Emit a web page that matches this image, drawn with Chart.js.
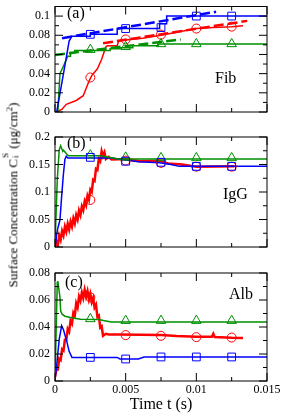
<!DOCTYPE html>
<html>
<head>
<meta charset="utf-8">
<script src="https://cdn.jsdelivr.net/npm/chart.js@4.4.1/dist/chart.umd.min.js"></script>
<style>
  body { margin: 0; background: #fff; width: 281px; height: 413px; overflow: hidden; position: relative; }
  canvas { position: absolute; left: 0; }
  #ytitle {
    position: absolute; left: 13px; top: 195px; white-space: nowrap;
    transform: translate(-50%, -50%) rotate(-90deg);
    font: 13px "Liberation Serif", serif; color: #000;
  }
  .ss { display: inline-block; position: relative; width: 7px; height: 1em; }
  .ss span { position: absolute; left: 1px; font-size: 9px; line-height: 1; }
  .sp { top: -3px; }
  .sb { top: 7px; }
  sup { font-size: 9px; }
</style>
</head>
<body>
<canvas id="pa" width="281" height="120" style="top:0"></canvas>
<canvas id="pb" width="281" height="127" style="top:128px"></canvas>
<canvas id="pc" width="281" height="158" style="top:255px"></canvas>
<div id="ytitle">Surface Concentration C<span class="ss"><span class="sp">S</span><span class="sb">i</span></span> (μg/cm<sup>2</sup>)</div>
<script>
// x axis (shared)
const xMajor = [0, 0.005, 0.01, 0.015];
const xLabels = ['0', '0.005', '0.01', '0.015'];
const xMinor = [0.0025, 0.0075, 0.0125];
const markT = [0.0025, 0.005, 0.0075, 0.01, 0.0125];

// (a) Fib
const aYMajor = [0, 0.02, 0.04, 0.06, 0.08, 0.1];
const aYLabels = ['0', '0.02', '0.04', '0.06', '0.08', '0.1'];
const aYMinor = [0.01, 0.03, 0.05, 0.07, 0.09];
const aBlueT = [0.00012, 0.0006, 0.001, 0.0012, 0.0025, 0.0025, 0.0044, 0.0044, 0.0074, 0.0074, 0.0079, 0.0079, 0.015];
const aBlueV = [0, 0.04, 0.074, 0.079, 0.079, 0.081, 0.081, 0.087, 0.087, 0.092, 0.092, 0.1, 0.1];
const aGreenT = [0.0002, 0.00035, 0.0006, 0.0009, 0.0011, 0.0011, 0.0014, 0.0014, 0.0039, 0.0039, 0.0046, 0.0046, 0.0055, 0.0055, 0.0073, 0.0073, 0.015];
const aGreenV = [0, 0.04, 0.048, 0.058, 0.058, 0.062, 0.062, 0.064, 0.064, 0.066, 0.066, 0.067, 0.067, 0.069, 0.069, 0.071, 0.071];
const aRedT = [0.0001, 0.0005, 0.0008, 0.0015, 0.002, 0.0024, 0.0026, 0.003, 0.0033, 0.0036, 0.0037, 0.0044, 0.0045, 0.005, 0.0062, 0.0075, 0.0085, 0.01, 0.0112, 0.0125, 0.0133];
const aRedV = [0, 0.003, 0.008, 0.012, 0.017, 0.032, 0.038, 0.045, 0.055, 0.068, 0.069, 0.069, 0.074, 0.075, 0.077, 0.08, 0.083, 0.087, 0.088, 0.089, 0.09];
const aBlueDashT = [0.0005, 0.0114];
const aBlueDashV = [0.077, 0.1045];
const aGreenDashT = [0, 0.0089];
const aGreenDashV = [0.0595, 0.0757];
const aRedDashT = [0.0034, 0.0136];
const aRedDashV = [0.0717, 0.095];
const aBlueM = [0.081, 0.087, 0.088, 0.1, 0.1];
const aGreenM = [0.065, 0.068, 0.071, 0.071, 0.071];
const aRedM = [0.036, 0.0757, 0.0807, 0.087, 0.089];

// (b) IgG
const bYMajor = [0, 0.05, 0.1, 0.15, 0.2];
const bYLabels = ['0', '0.05', '0.1', '0.15', '0.2'];
const bYMinor = [0.025, 0.075, 0.125, 0.175];
const bGreenT = [0, 0.00016, 0.0003, 0.0004, 0.00055, 0.0006, 0.0008, 0.00095, 0.0032, 0.0045, 0.015];
const bGreenV = [0.003, 0.122, 0.177, 0.184, 0.174, 0.176, 0.17, 0.166, 0.166, 0.16, 0.16];
const bBlueT = [0, 0.00016, 0.00035, 0.00047, 0.0006, 0.0007, 0.0008, 0.0009, 0.004, 0.005, 0.0059, 0.0074, 0.0082, 0.0088, 0.015];
const bBlueV = [0, 0.03, 0.049, 0.092, 0.134, 0.159, 0.165, 0.162, 0.162, 0.158, 0.155, 0.153, 0.15, 0.1466, 0.1466];
const bRedT = [0, 0.0001, 0.0002, 0.0003, 0.0004, 0.0005, 0.0006, 0.0007, 0.0008, 0.0009, 0.001, 0.0011, 0.0012, 0.0013, 0.0014, 0.0015,
  0.0016, 0.0017, 0.0018, 0.0019, 0.002, 0.0021, 0.0022, 0.0023, 0.0024, 0.0025, 0.0026, 0.0027, 0.0028, 0.0029, 0.003, 0.0031,
  0.0032, 0.0033, 0.0034, 0.0035, 0.0036, 0.0038, 0.004, 0.005, 0.006, 0.0074, 0.008, 0.009, 0.01, 0.0127];
const bRedV = [0, 0.010, 0.003, 0.021, 0.013, 0.029, 0.021, 0.037, 0.028, 0.042, 0.032, 0.046, 0.037, 0.052, 0.043, 0.058,
  0.050, 0.066, 0.058, 0.074, 0.067, 0.083, 0.076, 0.093, 0.086, 0.104, 0.100, 0.122, 0.120, 0.142, 0.140, 0.160,
  0.156, 0.174, 0.165, 0.172, 0.160, 0.164, 0.159, 0.16, 0.156, 0.157, 0.152, 0.15, 0.146, 0.147];
const bBlueM = [0.163, 0.156, 0.154, 0.1466, 0.1466];
const bGreenM = [0.167, 0.163, 0.162, 0.162, 0.162];
const bRedM = [0.0855, 0.157, 0.153, 0.146, 0.146];

// (c) Alb
const cYMajor = [0, 0.02, 0.04, 0.06, 0.08];
const cYLabels = ['0', '0.02', '0.04', '0.06', '0.08'];
const cYMinor = [0.01, 0.03, 0.05, 0.07];
const cGreenT = [0, 0.00016, 0.0002, 0.00035, 0.0004, 0.0005, 0.0007, 0.0011, 0.0018, 0.0031, 0.0036, 0.004, 0.015];
const cGreenV = [0, 0.073, 0.074, 0.062, 0.052, 0.0495, 0.048, 0.047, 0.0457, 0.0455, 0.0445, 0.0437, 0.0437];
const cBlueT = [0, 0.00012, 0.0003, 0.00047, 0.0006, 0.00083, 0.001, 0.0012, 0.0044, 0.0046, 0.0059, 0.0063, 0.015];
const cBlueV = [0.001, 0.012, 0.031, 0.041, 0.038, 0.0295, 0.022, 0.0175, 0.0175, 0.0163, 0.0163, 0.0178, 0.0178];
const cRedT = [0, 0.0001, 0.0002, 0.0003, 0.0004, 0.0005, 0.0006, 0.0007, 0.0008, 0.0009, 0.001, 0.0011, 0.0012, 0.0013, 0.0014, 0.0015,
  0.0016, 0.0017, 0.0018, 0.0019, 0.002, 0.0021, 0.0022, 0.0023, 0.0024, 0.0025, 0.0026, 0.0027, 0.0028, 0.0029, 0.003, 0.0031,
  0.0032, 0.0033, 0.0034, 0.0036, 0.0038, 0.0045, 0.0075, 0.0086, 0.01, 0.0111, 0.0112, 0.0113, 0.0125, 0.0133];
const cRedV = [0.003, 0.0085, 0.0085, 0.0165, 0.0155, 0.0235, 0.0225, 0.0305, 0.0305, 0.0385, 0.0365, 0.0445, 0.0425, 0.0505, 0.0485, 0.0575,
  0.0545, 0.0625, 0.0595, 0.0655, 0.0615, 0.0675, 0.0625, 0.0665, 0.0605, 0.0645, 0.0585, 0.0615, 0.0545, 0.0565, 0.0475, 0.0485,
  0.0395, 0.0405, 0.0335, 0.035, 0.0345, 0.0345, 0.034, 0.0333, 0.0328, 0.0328, 0.035, 0.0326, 0.032, 0.0319];
const cBlueM = [0.0175, 0.0163, 0.0178, 0.0178, 0.0178];
const cGreenM = [0.046, 0.0447, 0.0447, 0.0447, 0.0447];
const cRedM = [0.062, 0.034, 0.0335, 0.0325, 0.0322];

const BLUE = '#0000ff', RED = '#ff0000', GREEN = '#009000';
const SERIF = '"Liberation Serif", "Times New Roman", serif';

const pts = (ts, vs) => ts.map((t, i) => ({ x: t, y: vs[i] }));

function line(ts, vs, color, width, dash) {
  return { type: 'line', data: pts(ts, vs), borderColor: color, borderWidth: width,
    borderDash: dash || [], pointRadius: 0, fill: false, tension: 0 };
}
function marks(vs, color, style, r) {
  return { type: 'line', data: pts(markT, vs), showLine: false, pointStyle: style,
    pointRadius: r, pointBorderColor: color, pointBackgroundColor: 'rgba(0,0,0,0)', pointBorderWidth: 1 };
}

// frame, inward ticks on all four sides, and the panel texts
const frameTicks = {
  id: 'frameTicks',
  afterDatasetsDraw(chart, args, o) {
    const { ctx, chartArea: a, scales: { x, y } } = chart;
    ctx.save();
    ctx.strokeStyle = '#000';
    ctx.lineWidth = 1;
    ctx.strokeRect(a.left, a.top, a.right - a.left, a.bottom - a.top);
    ctx.beginPath();
    const vx = (v, len) => {
      const p = x.getPixelForValue(v);
      ctx.moveTo(p, a.bottom); ctx.lineTo(p, a.bottom - len);
      ctx.moveTo(p, a.top); ctx.lineTo(p, a.top + len);
    };
    const hy = (v, len) => {
      const p = y.getPixelForValue(v);
      ctx.moveTo(a.left, p); ctx.lineTo(a.left + len, p);
      ctx.moveTo(a.right, p); ctx.lineTo(a.right - len, p);
    };
    xMajor.forEach(v => vx(v, 8));
    xMinor.forEach(v => vx(v, 4));
    o.yMajor.forEach(v => hy(v, 8));
    o.yMinor.forEach(v => hy(v, 4));
    ctx.stroke();
    ctx.fillStyle = '#000';
    ctx.font = '16px ' + SERIF;
    ctx.textBaseline = 'alphabetic';
    ctx.fillText(o.tag[0], o.tag[1], o.tag[2]);
    ctx.fillText(o.name[0], o.name[1], o.name[2]);
    ctx.restore();
  }
};

function makePanel(id, p) {
  const ctx = document.getElementById(id).getContext('2d');
  new Chart(ctx, {
    data: { datasets: p.datasets },
    plugins: [frameTicks],
    options: {
      responsive: false,
      animation: false,
      events: [],
      layout: { padding: p.padding },
      plugins: {
        legend: { display: false },
        tooltip: { enabled: false },
        frameTicks: { yMajor: p.yMajor, yMinor: p.yMinor, tag: p.tag, name: p.name }
      },
      scales: {
        x: {
          type: 'linear', min: 0, max: 0.015,
          afterBuildTicks: s => { s.ticks = xMajor.map(v => ({ value: v })); },
          afterFit: s => { s.height = p.showX ? 32 : 0; s.paddingLeft = 0; s.paddingRight = 0; },
          ticks: { display: p.showX, autoSkip: false, maxRotation: 0, padding: 2, color: '#000',
            font: { family: SERIF, size: 12 }, callback: (v, i) => xLabels[i] },
          title: { display: p.showX, text: 'Time t (s)', color: '#000', padding: 0,
            font: { family: SERIF, size: 16, lineHeight: 1 } },
          grid: { display: false, drawTicks: false },
          border: { display: false }
        },
        y: {
          type: 'linear', min: 0, max: p.yMax,
          afterBuildTicks: s => { s.ticks = p.yMajor.map(v => ({ value: v })); },
          afterFit: s => { s.width = 55; s.paddingTop = 0; s.paddingBottom = 0; },
          ticks: { autoSkip: false, padding: 5, color: '#000',
            font: { family: SERIF, size: 12 }, callback: (v, i) => p.yLabels[i] },
          grid: { display: false, drawTicks: false },
          border: { display: false }
        }
      }
    }
  });
}

makePanel('pa', {
  padding: { top: 2, right: 14, bottom: 8, left: 0 },
  yMax: 0.11, yMajor: aYMajor, yMinor: aYMinor, yLabels: aYLabels,
  tag: ['(a)', 67, 18], name: ['Fib', 215, 83], showX: false,
  datasets: [
    marks(aBlueM, BLUE, 'rect', 5.5),
    marks(aGreenM, GREEN, 'triangle', 5.5),
    marks(aRedM, RED, 'circle', 4.5),
    line(aBlueDashT, aBlueDashV, BLUE, 2.5, [10, 4]),
    line(aGreenDashT, aGreenDashV, GREEN, 2.5, [10, 4]),
    line(aRedDashT, aRedDashV, RED, 2.5, [10, 4]),
    line(aBlueT, aBlueV, BLUE, 1.5),
    line(aGreenT, aGreenV, GREEN, 1.5),
    line(aRedT, aRedV, RED, 1.5)
  ]
});

makePanel('pb', {
  padding: { top: 9, right: 14, bottom: 8, left: 0 },
  yMax: 0.2, yMajor: bYMajor, yMinor: bYMinor, yLabels: bYLabels,
  tag: ['(b)', 67, 19.5], name: ['IgG', 223, 70.5], showX: false,
  datasets: [
    marks(bBlueM, BLUE, 'rect', 5.5),
    marks(bGreenM, GREEN, 'triangle', 5.5),
    marks(bRedM, RED, 'circle', 4.5),
    line(bGreenT, bGreenV, GREEN, 1.5),
    line(bBlueT, bBlueV, BLUE, 1.5),
    line(bRedT, bRedV, RED, 2.5)
  ]
});

makePanel('pc', {
  padding: { top: 18, right: 14, bottom: 0, left: 0 },
  yMax: 0.08, yMajor: cYMajor, yMinor: cYMinor, yLabels: cYLabels,
  tag: ['(c)', 65, 32], name: ['Alb', 229, 43.5], showX: true,
  datasets: [
    marks(cBlueM, BLUE, 'rect', 5.5),
    marks(cGreenM, GREEN, 'triangle', 5.5),
    marks(cRedM, RED, 'circle', 4.5),
    line(cGreenT, cGreenV, GREEN, 1.5),
    line(cBlueT, cBlueV, BLUE, 1.5),
    line(cRedT, cRedV, RED, 2.5)
  ]
});
</script>
</body>
</html>
